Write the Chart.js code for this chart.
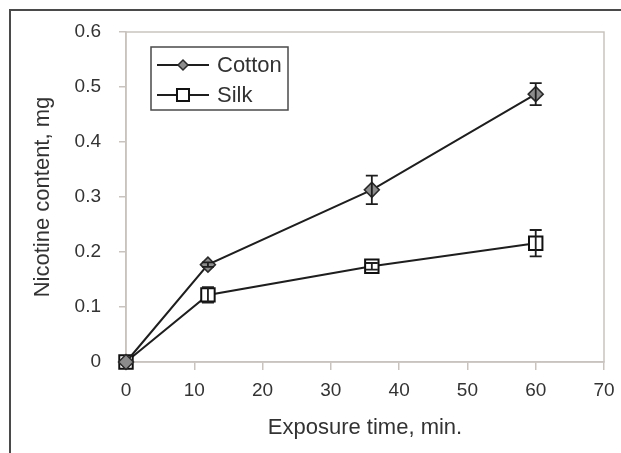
<!DOCTYPE html>
<html>
<head>
<meta charset="utf-8">
<script src="https://cdn.jsdelivr.net/npm/chart.js@4"></script>
<style>
  body { margin: 0; background: #fff; }
  #wrap { position: relative; width: 621px; height: 453px; }
  #frame { position: absolute; left: 9px; top: 9px; right: -5px; bottom: -5px; border-top: 2px solid #4a4a4a; border-left: 2px solid #4a4a4a; }
  canvas { position: absolute; left: 0; top: 0; }
</style>
</head>
<body>
<div id="wrap">
  <div id="frame"></div>
  <canvas id="myChart" width="621" height="453"></canvas>
</div>
<script>
const times = [0, 12, 36, 60];
const cotton = [0, 0.177, 0.313, 0.487];
const cottonErr = [0, 0.004, 0.026, 0.02];
const silk = [0, 0.122, 0.174, 0.216];
const silkErr = [0, 0.014, 0.006, 0.024];
const xTicks = [0, 10, 20, 30, 40, 50, 60, 70];
const yTicks = [0, 0.1, 0.2, 0.3, 0.4, 0.5, 0.6];

const textColor = "#333333";
const axisColor = "#c9c3bf";
const font = "'Liberation Sans', Arial, sans-serif";

function toPoints(ys) {
  return times.map((t, i) => ({ x: t, y: ys[i] }));
}

// error bars + frame round the plot area
const errorBars = {
  id: "errorBars",
  beforeDatasetsDraw(chart) {
    const { ctx, chartArea } = chart;
    ctx.save();
    ctx.strokeStyle = axisColor;
    ctx.lineWidth = 1.5;
    ctx.strokeRect(chartArea.left, chartArea.top, chartArea.right - chartArea.left, chartArea.bottom - chartArea.top);
    ctx.restore();
  },
  afterDatasetsDraw(chart) {
    const { ctx } = chart;
    const xs = chart.scales.x;
    const ys = chart.scales.y;
    const sets = [[cotton, cottonErr], [silk, silkErr]];
    ctx.save();
    ctx.strokeStyle = "#1e1e1e";
    ctx.lineWidth = 1.8;
    sets.forEach(([vals, errs]) => {
      vals.forEach((v, i) => {
        if (!errs[i]) return;
        const px = xs.getPixelForValue(times[i]);
        const top = ys.getPixelForValue(v + errs[i]);
        const bot = ys.getPixelForValue(v - errs[i]);
        ctx.beginPath();
        ctx.moveTo(px, top);
        ctx.lineTo(px, bot);
        ctx.moveTo(px - 6, top);
        ctx.lineTo(px + 6, top);
        ctx.moveTo(px - 6, bot);
        ctx.lineTo(px + 6, bot);
        ctx.stroke();
      });
    });
    ctx.restore();
  },
};

// boxed legend inside the plot
const boxLegend = {
  id: "boxLegend",
  afterDraw(chart) {
    const { ctx } = chart;
    ctx.save();
    ctx.strokeStyle = "#4a4a4a";
    ctx.lineWidth = 1.5;
    ctx.fillStyle = "#fff";
    ctx.fillRect(151, 47, 137, 63);
    ctx.strokeRect(151, 47, 137, 63);
    const rows = [65, 95];
    chart.data.datasets.forEach((ds, i) => {
      const y = rows[i];
      ctx.strokeStyle = ds.borderColor;
      ctx.lineWidth = ds.borderWidth;
      ctx.beginPath();
      ctx.moveTo(157, y);
      ctx.lineTo(209, y);
      ctx.stroke();
      ctx.fillStyle = ds.pointBackgroundColor;
      ctx.strokeStyle = ds.pointBorderColor;
      ctx.lineWidth = ds.pointBorderWidth;
      Chart.helpers.drawPoint(ctx, {
        pointStyle: ds.pointStyle,
        radius: ds.legendRadius,
        borderWidth: ds.pointBorderWidth,
        rotation: 0,
      }, 183, y);
      ctx.fillStyle = textColor;
      ctx.font = "22px " + font;
      ctx.textBaseline = "middle";
      ctx.fillText(ds.label, 217, y + 1);
    });
    ctx.restore();
  },
};

const ctx = document.getElementById("myChart").getContext("2d");
const myChart = new Chart(ctx, {
  type: "line",
  data: {
    datasets: [
      {
        label: "Cotton",
        data: toPoints(cotton),
        borderColor: "#1e1e1e",
        borderWidth: 2,
        pointStyle: "rectRot",
        pointRadius: 7.5,
        legendRadius: 5,
        pointBackgroundColor: "#8c8c8c",
        pointBorderColor: "#2a2a2a",
        pointBorderWidth: 1.5,
        clip: false,
      },
      {
        label: "Silk",
        data: toPoints(silk),
        borderColor: "#1e1e1e",
        borderWidth: 2,
        pointStyle: "rect",
        pointRadius: 9.5,
        legendRadius: 8.5,
        pointBackgroundColor: "#ffffff",
        pointBorderColor: "#111111",
        pointBorderWidth: 2,
        clip: false,
      },
    ],
  },
  options: {
    responsive: false,
    animation: false,
    layout: { autoPadding: false, padding: { left: 10, top: 32, right: 17, bottom: 0 } },
    plugins: { legend: { display: false }, tooltip: { enabled: false } },
    scales: {
      x: {
        type: "linear",
        min: 0,
        max: 70,
        afterBuildTicks: (axis) => { axis.ticks = xTicks.map((v) => ({ value: v })); },
        afterFit: (axis) => {
          axis.height = 91;
          axis.paddingLeft = 0;
          axis.paddingRight = 0;
        },
        grid: { drawOnChartArea: false, drawTicks: true, tickLength: 8, color: axisColor, lineWidth: 1.5 },
        border: { color: axisColor, width: 1.5 },
        ticks: { color: textColor, font: { family: font, size: 19 }, padding: 9 },
        title: {
          display: true,
          text: "Exposure time, min.",
          color: textColor,
          font: { family: font, size: 22 },
          padding: { top: 0, bottom: 12 },
        },
      },
      y: {
        type: "linear",
        min: 0,
        max: 0.6,
        afterBuildTicks: (axis) => { axis.ticks = yTicks.map((v) => ({ value: v })); },
        afterFit: (axis) => {
          axis.width = 116;
          axis.paddingTop = 0;
          axis.paddingBottom = 0;
        },
        grid: { drawOnChartArea: false, drawTicks: true, tickLength: 7, color: axisColor, lineWidth: 1.5 },
        border: { color: axisColor, width: 1.5 },
        ticks: {
          color: textColor,
          font: { family: font, size: 19 },
          padding: 18,
          callback: (v) => String(+v.toFixed(1)),
        },
        title: {
          display: true,
          text: "Nicotine content, mg",
          color: textColor,
          font: { family: font, size: 22 },
          padding: { top: 20, bottom: 0 },
        },
      },
    },
  },
  plugins: [errorBars, boxLegend],
});
</script>
</body>
</html>
